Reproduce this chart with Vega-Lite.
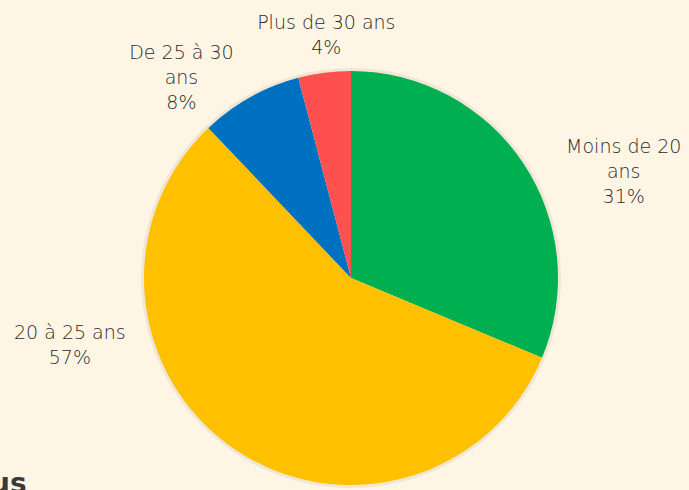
{
  "$schema": "https://vega.github.io/schema/vega-lite/v6.json",
  "width": 676,
  "height": 414,
  "autosize": "none",
  "padding": {"left": 13, "top": 71, "right": 0, "bottom": 5},
  "background": "#FEF5E4",
  "view": {"stroke": null},
  "title": {"text": "us", "orient": "bottom", "anchor": "start", "fontSize": 28, "fontWeight": "bold", "color": "#3a3a3a", "font": "DejaVu Sans", "baseline": "top", "offset": -17, "dx": -23},
  "data": {
    "values": [
      {"tranche": "Moins de 20 ans", "part": 31.3, "ordre": 1, "etiquette": "Moins de 20\nans\n31%"},
      {"tranche": "20 à 25 ans", "part": 56.6, "ordre": 2, "etiquette": "20 à 25 ans\n57%"},
      {"tranche": "De 25 à 30 ans", "part": 8.0, "ordre": 3, "etiquette": "De 25 à 30\nans\n8%"},
      {"tranche": "Plus de 30 ans", "part": 4.1, "ordre": 4, "etiquette": "Plus de 30 ans\n4%"}
    ]
  },
  "encoding": {
    "theta": {"field": "part", "type": "quantitative", "stack": true},
    "order": {"field": "ordre", "type": "quantitative"}
  },
  "layer": [
    {"mark": {"type": "arc", "outerRadius": 210, "fill": "#000000", "opacity": 0.06}},
    {
      "mark": {"type": "arc", "outerRadius": 207},
      "encoding": {
        "color": {
          "field": "tranche",
          "type": "nominal",
          "scale": {
            "domain": ["Moins de 20 ans", "20 à 25 ans", "De 25 à 30 ans", "Plus de 30 ans"],
            "range": ["#00B050", "#FFC000", "#0070C0", "#FF5050"]
          },
          "legend": null
        }
      }
    },
    {
      "mark": {
        "type": "text",
        "radius": 270,
        "lineBreak": "\n",
        "lineHeight": 25,
        "fontSize": 19,
        "font": "DejaVu Sans",
        "fontWeight": 200,
        "color": "#2b2b2b",
        "align": "center",
        "baseline": "middle",
        "dx": {"expr": "datum.tranche === 'Moins de 20 ans' ? 48 : datum.tranche === '20 à 25 ans' ? -128 : datum.tranche === 'De 25 à 30 ans' ? -38 : 10"},
        "dy": {"expr": "datum.tranche === 'Moins de 20 ans' ? 19 : datum.tranche === '20 à 25 ans' ? -167 : datum.tranche === 'De 25 à 30 ans' ? 11 : 13"}
      },
      "encoding": {"text": {"field": "etiquette", "type": "nominal"}}
    }
  ]
}
